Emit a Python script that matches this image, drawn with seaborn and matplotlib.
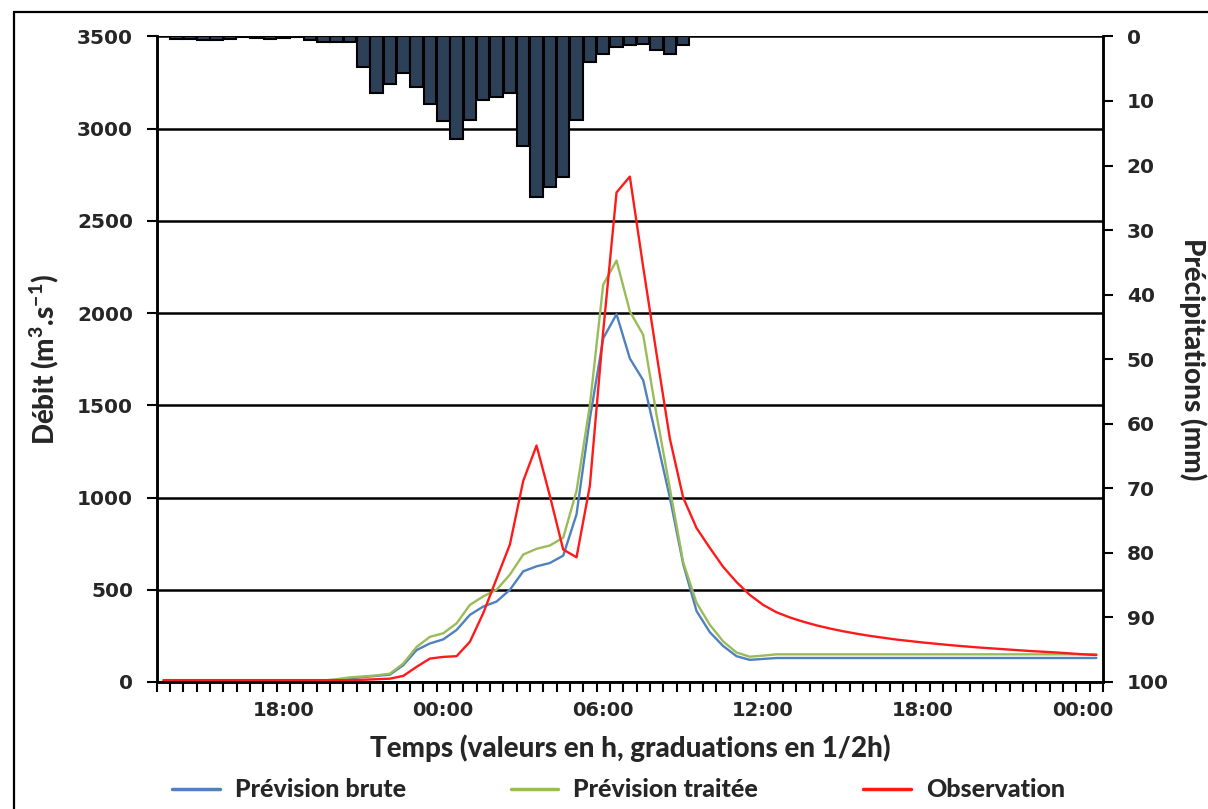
import numpy as np
import pandas as pd
import matplotlib
matplotlib.use("Agg")
import matplotlib.pyplot as plt
import seaborn as sns
from matplotlib import font_manager as fm
from matplotlib.lines import Line2D

# pas de temps : une valeur par demi-heure
heures = pd.date_range("2000-01-01 13:30", periods=71, freq="30min")

precipitations = [0, 0.35, 0.4, 0.5, 0.6, 0.35, 0.1, 0.3, 0.35, 0.25,
                  0.1, 0.5, 0.8, 0.9, 0.9, 4.8, 8.8, 7.3, 5.7, 7.9,
                  10.4, 13.1, 15.9, 12.9, 9.8, 9.4, 8.8, 16.9, 24.8, 23.3,
                  21.8, 12.9, 3.9, 2.8, 1.6, 1.3, 1.2, 2.1, 2.7, 1.3,
                  0, 0, 0, 0, 0, 0, 0, 0, 0, 0,
                  0, 0, 0, 0, 0, 0, 0, 0, 0, 0,
                  0, 0, 0, 0, 0, 0, 0, 0, 0, 0,
                  0]

prevision_brute = [2, 2, 2, 2, 2, 2, 2, 2, 2, 2,
                   2, 3, 5, 12, 20, 27, 33, 40, 91, 173,
                   209, 231, 282, 364, 409, 436, 500, 600, 627, 645,
                   685, 909, 1427, 1863, 1994, 1754, 1636, 1320, 1000, 640,
                   385, 270, 195, 140, 120, 125, 130, 130, 130, 130,
                   130, 130, 130, 130, 130, 130, 130, 130, 130, 130,
                   130, 130, 130, 130, 130, 130, 130, 130, 130, 130,
                   130]

prevision_traitee = [2, 2, 2, 2, 2, 2, 2, 2, 2, 2,
                     2, 4, 8, 15, 25, 30, 36, 45, 100, 190,
                     245, 264, 318, 418, 464, 500, 582, 691, 722, 740,
                     782, 1036, 1500, 2154, 2285, 2009, 1882, 1450, 1050, 650,
                     430, 310, 220, 160, 137, 143, 150, 150, 150, 150,
                     150, 150, 150, 150, 150, 150, 150, 150, 150, 150,
                     150, 150, 150, 150, 150, 150, 150, 150, 150, 150,
                     150]

observation = [10, 10, 10, 10, 10, 10, 10, 10, 10, 10,
               10, 10, 10, 10, 10, 12, 15, 18, 33, 82,
               127, 136, 140, 218, 373, 560, 745, 1090, 1282, 1009,
               718, 676, 1064, 1900, 2654, 2740, 2250, 1780, 1320, 1000,
               835, 727, 624, 542, 472, 418, 378, 350, 327, 307,
               290, 275, 262, 250, 240, 230, 222, 214, 207, 200,
               194, 188, 183, 178, 173, 168, 164, 160, 155, 150,
               146]

series = ["Prévision brute", "Prévision traitée", "Observation"]
couleurs = ["#4F81BD", "#9BBB59", "#FF1A1A"]

idx = np.arange(len(heures))
df = pd.DataFrame({"idx": idx,
                   "Prévision brute": prevision_brute,
                   "Prévision traitée": prevision_traitee,
                   "Observation": observation,
                   "pluie": precipitations})
long = df.melt(id_vars="idx", value_vars=series, var_name="serie", value_name="debit")

sns.set_theme(style="white")


def pick_font(names):
    for n in names:
        try:
            fm.findfont(fm.FontProperties(family=n), fallback_to_default=False)
            return n
        except Exception:
            pass
    return "DejaVu Sans"


narrow = pick_font(["Liberation Sans Narrow", "Lato", "DejaVu Sans"])
plt.rcParams["font.family"] = ["DejaVu Sans"]
plt.rcParams["mathtext.fontset"] = "custom"
plt.rcParams["mathtext.rm"] = narrow + ":black"
plt.rcParams["mathtext.bf"] = narrow + ":black"

fig = plt.figure(figsize=(12.08, 8.09), dpi=100)
ax = fig.add_axes([0.1297, 0.157, 0.7834, 0.798])

sns.lineplot(data=long, x="idx", y="debit", hue="serie", hue_order=series,
             palette=couleurs, linewidth=1.7, ax=ax)

ax2 = ax.twinx()
sns.barplot(x=df["idx"], y=df["pluie"], native_scale=True, color="#243F60",
            edgecolor="black", linewidth=1.5, width=0.94, ax=ax2)

ax.set_xlim(-0.5, len(idx) - 0.5)
ax.set_ylim(0, 3500)
ax.set_yticks(np.arange(0, 3501, 500))
ax2.set_ylim(100, 0)
ax2.set_yticks(np.arange(0, 101, 10))

# graduations en 1/2h, étiquettes toutes les 6h
lab_pos = [i for i, h in enumerate(heures) if h.minute == 0 and h.hour % 6 == 0]
ax.set_xticks(lab_pos)
ax.set_xticklabels([heures[i].strftime("%H:%M") for i in lab_pos])
ax.set_xticks(np.arange(-0.5, len(idx), 1), minor=True)
ax.tick_params(axis="x", which="major", length=0, pad=14, labelsize=14)
ax.tick_params(axis="x", which="minor", direction="out", length=7, width=1.5, color="black", bottom=True)
ax.tick_params(axis="y", direction="out", length=7, width=1.5, color="black", labelsize=14.5, pad=10, left=True)
ax2.tick_params(axis="y", direction="out", length=7, width=1.5, color="black", labelsize=14.5, pad=10, right=True)
for t in ax.get_xticklabels() + ax.get_yticklabels() + ax2.get_yticklabels():
    t.set_fontweight("bold")

ax.yaxis.grid(True, color="black", linewidth=1.8)
ax.xaxis.grid(False)
ax.set_axisbelow(True)
for a in (ax, ax2):
    for s in a.spines.values():
        s.set_color("black")
        s.set_linewidth(1.8)
ax.spines["top"].set_visible(False)
ax2.spines["top"].set_visible(False)

lab = dict(fontsize=20, fontweight="black", family=narrow)
ax.set_xlabel("Temps (valeurs en h, graduations en 1/2h)", labelpad=10, **lab)
ax.set_ylabel("Débit (m$^{3}$.s$^{-1}$)", labelpad=11, **lab)
ax2.set_ylabel("Précipitations (mm)", rotation=270, labelpad=27, **lab)

sns.move_legend(ax, "center", bbox_to_anchor=(0.488, -0.167), ncol=3, frameon=False,
                title=None, handlelength=1.9, columnspacing=4.2, handletextpad=0.6,
                prop={"family": narrow, "weight": "black", "size": 18})
for l in ax.get_legend().get_lines():
    l.set_linewidth(2.5)

# cadre de la figure
fig.add_artist(Line2D([14 / 1208, 14 / 1208], [0, 1 - 12 / 809], transform=fig.transFigure,
                      color="black", linewidth=1.6))
fig.add_artist(Line2D([14 / 1208, 1], [1 - 12 / 809, 1 - 12 / 809], transform=fig.transFigure,
                      color="black", linewidth=1.6))

fig.savefig("out.png", dpi=100)
